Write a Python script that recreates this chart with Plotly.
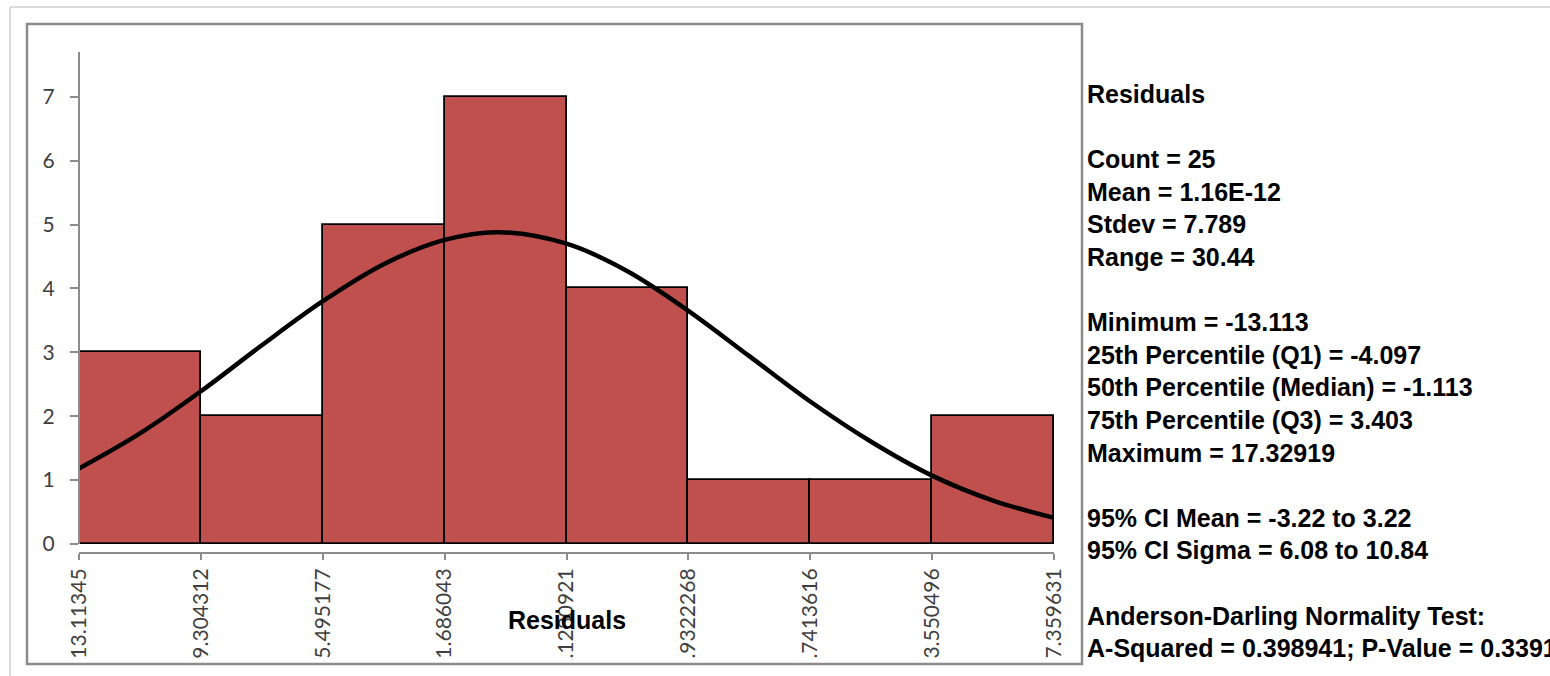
import plotly.graph_objects as go

# ---------------- data ----------------
bin_edges = [-13.11345, -9.304312, -5.495177, -1.686043, 2.1230921,
             5.9322268, 9.7413616, 13.550496, 17.359631]
edge_labels = ["-13.11345", "-9.304312", "-5.495177", "-1.686043", "2.1230921",
               "5.9322268", "9.7413616", "13.550496", "17.359631"]
counts = [3, 2, 5, 7, 4, 1, 1, 2]

# fitted normal curve
curve_x = [-13.11345, -11.209, -9.304, -7.400, -5.495, -3.591, -1.686, 0.0,
           2.123, 4.028, 5.932, 7.837, 9.741, 11.646, 13.550, 15.455, 17.360]
curve_y = [1.18, 1.73, 2.39, 3.11, 3.80, 4.38, 4.76, 4.88,
           4.70, 4.27, 3.65, 2.94, 2.23, 1.60, 1.07, 0.68, 0.41]

y_ticks = [0, 1, 2, 3, 4, 5, 6, 7]

stats_lines = [
    "Residuals", "",
    "Count = 25", "Mean = 1.16E-12", "Stdev = 7.789", "Range = 30.44", "",
    "Minimum = -13.113", "25th Percentile (Q1) = -4.097",
    "50th Percentile (Median) = -1.113", "75th Percentile (Q3) = 3.403",
    "Maximum = 17.32919", "",
    "95% CI Mean = -3.22 to 3.22", "95% CI Sigma = 6.08 to 10.84", "",
    "Anderson-Darling Normality Test:",
    "A-Squared = 0.398941; P-Value = 0.3391",
]
x_title = "Residuals"

# ---------------- layout geometry (pixels) ----------------
W, H = 1550, 676
L, R, T, B = 79, 1054, 52, 552
pw, ph = R - L, B - T


def px(x):
    return (x - L) / pw


def py(y):
    return (B - y) / ph


centers = [(a + b) / 2 for a, b in zip(bin_edges[:-1], bin_edges[1:])]
widths = [b - a for a, b in zip(bin_edges[:-1], bin_edges[1:])]

fig = go.Figure()
fig.add_trace(go.Bar(
    x=centers, y=counts, width=widths,
    marker=dict(color="#C0504D", line=dict(color="black", width=1.8)),
    showlegend=False, hoverinfo="skip",
))
fig.add_trace(go.Scatter(
    x=curve_x, y=curve_y, mode="lines",
    line=dict(color="black", width=4.5, shape="spline", smoothing=1.0),
    showlegend=False, hoverinfo="skip",
))

tick_font = dict(family="Lato, Open Sans, sans-serif", size=21, color="#404040")

fig.update_layout(
    width=W, height=H,
    margin=dict(l=L, r=W - R, t=T, b=H - B, pad=0, autoexpand=False),
    paper_bgcolor="white", plot_bgcolor="white",
    bargap=0,
    xaxis=dict(
        range=[bin_edges[0], bin_edges[-1]],
        tickvals=bin_edges, ticktext=edge_labels,
        tickangle=-90, tickfont=tick_font,
        showline=True, linecolor="#8C8C8C", linewidth=2,
        ticks="outside", ticklen=6, tickwidth=2, tickcolor="#8C8C8C",
        showgrid=False, zeroline=False, automargin=False,
        ticklabelstandoff=0,
    ),
    yaxis=dict(
        range=[-0.125, 7.7],
        tickvals=y_ticks, tickfont=tick_font,
        showline=False,
        ticks="outside", ticklen=8, tickwidth=2, tickcolor="#8C8C8C",
        showgrid=False, zeroline=False, automargin=False,
        ticklabelstandoff=11,
    ),
)

shapes = []
# y axis line
shapes.append(dict(type="line", xref="paper", yref="y", x0=0, x1=0, y0=0, y1=7.7,
                   line=dict(color="#8C8C8C", width=2), layer="above"))
# mask to clip the tick labels at the chart frame
shapes.append(dict(type="rect", xref="paper", yref="paper",
                   x0=px(29), x1=px(1080), y0=py(676), y1=py(660),
                   fillcolor="white", line=dict(width=0), layer="above"))
# chart frame
shapes.append(dict(type="rect", xref="paper", yref="paper",
                   x0=px(27), x1=px(1082), y0=py(664), y1=py(24),
                   line=dict(color="#8C8C8C", width=2.5), fillcolor="rgba(0,0,0,0)",
                   layer="above"))
# outer light border (left and top)
shapes.append(dict(type="line", xref="paper", yref="paper",
                   x0=px(10), x1=px(10), y0=py(676), y1=py(7),
                   line=dict(color="#DCDCDC", width=2), layer="above"))
shapes.append(dict(type="line", xref="paper", yref="paper",
                   x0=px(10), x1=px(1552), y0=py(7), y1=py(7),
                   line=dict(color="#DCDCDC", width=2), layer="above"))
fig.update_layout(shapes=shapes)

annotations = []
y0_line, step = 94, 32.6
for i, line in enumerate(stats_lines):
    if not line:
        continue
    annotations.append(dict(
        text="<b>%s</b>" % line, xref="paper", yref="paper",
        x=px(1085), y=py(y0_line + i * step), xanchor="left", yanchor="middle",
        showarrow=False, align="left",
        font=dict(family="Liberation Sans, Arial, sans-serif", size=25, color="black"),
    ))
annotations.append(dict(
    text="<b>%s</b>" % x_title, xref="paper", yref="paper",
    x=px(567), y=py(620), xanchor="center", yanchor="middle", showarrow=False,
    font=dict(family="Liberation Sans, Arial, sans-serif", size=25, color="black"),
))
fig.update_layout(annotations=annotations)

fig.write_html(
    "out.html",
    config={"displayModeBar": False},
    post_script="document.body.style.margin='0';document.body.style.overflow='hidden';",
)
